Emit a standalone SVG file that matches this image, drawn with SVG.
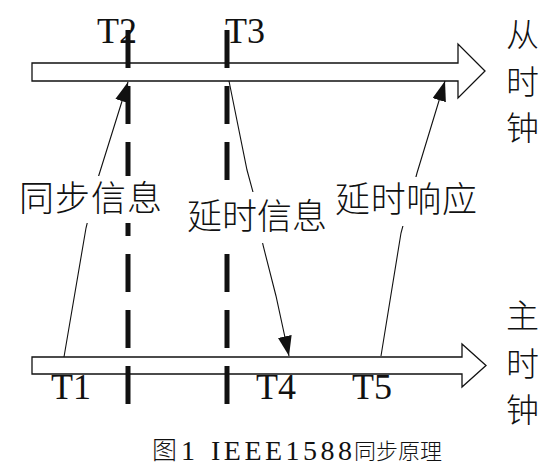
<svg xmlns="http://www.w3.org/2000/svg" width="552" height="466" viewBox="0 0 552 466">
<defs>
<style>
.axis{fill:#fff;stroke:#111;stroke-width:1.3}
.dash{stroke:#111;stroke-width:5;stroke-dasharray:38 18;fill:none}
.conn{stroke:#111;stroke-width:1.1;fill:none;marker-end:url(#ah)}
.bg{fill:#fff}
.lat{font-family:"Liberation Serif","Times New Roman",serif;fill:#111}
.cjk{font-family:"Noto Sans CJK SC","Noto Sans",sans-serif;fill:#111;font-weight:300}
</style>
<marker id="ah" viewBox="0 0 20 14" refX="20" refY="7" markerWidth="20" markerHeight="14" markerUnits="userSpaceOnUse" orient="auto">
<path d="M0,0 L20,7 L0,14 Z" fill="#111"/>
</marker>
</defs>
<rect width="552" height="466" fill="#fff"/>
<g id="slave-clock">
<polygon class="axis" points="32,63 458,63 458,44 485,71 458,98 458,81 32,81"/>
<text class="cjk" x="506" y="47" font-size="33">从</text>
<text class="cjk" x="506" y="94" font-size="33">时</text>
<text class="cjk" x="506" y="140" font-size="33">钟</text>
</g>
<g id="master-clock">
<polygon class="axis" points="32,357 462,357 462,344 486,365.5 462,387 462,374 32,374"/>
<text class="cjk" x="506" y="328" font-size="33">主</text>
<text class="cjk" x="506" y="376" font-size="33">时</text>
<text class="cjk" x="506" y="422" font-size="33">钟</text>
</g>
<g id="time-labels">
<text class="lat" x="97" y="43" font-size="36">T2</text>
<text class="lat" x="225" y="43" font-size="36">T3</text>
<text class="lat" x="51" y="399" font-size="36">T1</text>
<text class="lat" x="256" y="399" font-size="36">T4</text>
<text class="lat" x="352" y="399" font-size="36">T5</text>
</g>
<g id="markers">
<line class="dash" x1="128" y1="30" x2="128" y2="404"/>
<line class="dash" x1="227" y1="30" x2="227" y2="404"/>
</g>
<g id="connectors">
<polyline class="conn" points="64,357 86,228 98,178 128,82"/>
<polyline class="conn" points="229,81 247,170 253,192 263,245 276,296 289,356"/>
<polyline class="conn" points="381,356 401,233 417,173 445,81"/>
</g>
<g id="sync-label">
<rect class="bg" x="17" y="176" width="148" height="47"/>
<text class="cjk" x="19" y="211" font-size="35" textLength="143" lengthAdjust="spacing">同步信息</text>
</g>
<g id="delay-label">
<rect class="bg" x="184" y="192" width="147" height="51"/>
<text class="cjk" x="187" y="229" font-size="35" textLength="140" lengthAdjust="spacing">延时信息</text>
</g>
<g id="response-label">
<rect class="bg" x="332" y="177" width="150" height="49"/>
<text class="cjk" x="335" y="212" font-size="35" textLength="142" lengthAdjust="spacing">延时响应</text>
</g>
<g id="caption">
<text class="cjk" x="152" y="459" font-size="25">图</text>
<text class="lat" x="181" y="460" font-size="28">1</text>
<text class="lat" x="211" y="460" font-size="28" textLength="141" lengthAdjust="spacing">IEEE1588</text>
<text class="cjk" x="354" y="459" font-size="22">同步原理</text>
</g>
</svg>
